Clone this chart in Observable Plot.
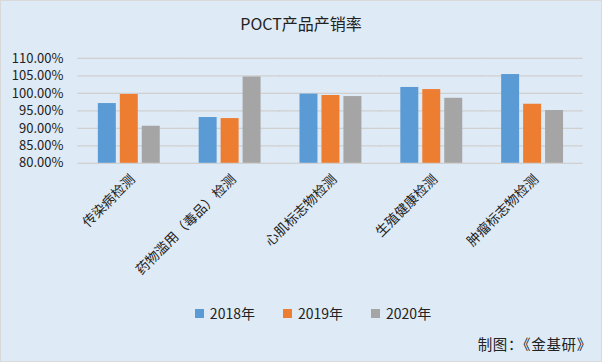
<!DOCTYPE html>
<html><head><meta charset="utf-8">
<script src="https://cdn.jsdelivr.net/npm/d3@7"></script>
<script src="https://cdn.jsdelivr.net/npm/@observablehq/plot@0.6"></script>
<style>
html,body{margin:0;padding:0;}
#wrap{position:relative;width:602px;height:362px;box-sizing:border-box;border:1px solid #d9d9d9;background:#deeaf6;font-family:"Noto Sans CJK SC","Noto Sans",sans-serif;overflow:hidden;}
#title{position:absolute;left:0;top:10px;width:600px;text-align:center;font-size:16px;color:#222;}
#chart{position:absolute;left:-1px;top:39px;}
#legend{position:absolute;left:12px;top:302px;width:600px;display:flex;justify-content:center;gap:28px;font-size:14px;color:#222;}
#legend span.item{display:flex;align-items:center;gap:6px;}
#legend span.sw{display:inline-block;width:9px;height:9px;}
#caption{position:absolute;right:9px;top:332px;font-size:14.5px;color:#222;letter-spacing:0.7px;}
</style></head>
<body>
<div id="wrap">
<div id="title">POCT产品产销率</div>
<div id="chart"></div>
<div id="legend"></div>
<div id="caption">制图：《金基研》</div>
</div>
<script>
const categories = ["传染病检测","药物滥用（毒品）检测","心肌标志物检测","生殖健康检测","肿瘤标志物检测"];
const years = ["2018年","2019年","2020年"];
const v2018 = [97.1, 93.1, 99.8, 101.7, 105.4];
const v2019 = [99.7, 92.8, 99.4, 101.1, 96.9];
const v2020 = [90.6, 104.7, 99.1, 98.6, 95.1];
const yTicks = [80,85,90,95,100,105,110];
const colors = ["#5b9bd5","#ed7d31","#a5a5a5"];

const series = [v2018, v2019, v2020];
const data = [];
categories.forEach((c,i)=>years.forEach((y,j)=>data.push({cat:c, year:y, value:series[j][i]})));

const chart = Plot.plot({
  width: 602, height: 246,
  marginLeft: 77, marginRight: 18, marginTop: 18, marginBottom: 123,
  style: {background: "transparent", fontFamily: '"Noto Sans CJK SC","Noto Sans",sans-serif', fontSize: "13px", color: "#222", overflow: "visible"},
  fx: {domain: categories, paddingInner: 0.377, paddingOuter: 0.19, label: null, axis: null},
  x: {domain: years, paddingInner: 0.2, paddingOuter: 0, axis: null},
  y: {domain: [80, 110], label: null, axis: null},
  color: {domain: years, range: colors},
  marks: [
    Plot.ruleY(yTicks, {stroke: "#d0d0d0", strokeWidth: 1.3, insetLeft: -19.6, insetRight: -19.6}),
    Plot.barY(data, {fx: "cat", x: "year", y1: 80, y2: "value", fill: "year"}),
    Plot.axisY(yTicks, {tickSize: 0, tickPadding: 34, tickFormat: d => d.toFixed(2) + "%", fontSize: 13, fill: "#222", label: null}),
    Plot.axisFx({anchor: "bottom", tickSize: 0, tickRotate: -45, tickPadding: 8, dx: 4, dy: 6, fontSize: 13.5, fill: "#222", label: null})
  ]
});
document.getElementById("chart").appendChild(chart);

const lg = document.getElementById("legend");
years.forEach((y,i)=>{
  const s = document.createElement("span"); s.className="item";
  s.innerHTML = `<span class="sw" style="background:${colors[i]}"></span>${y}`;
  lg.appendChild(s);
});
</script>
</body></html>
